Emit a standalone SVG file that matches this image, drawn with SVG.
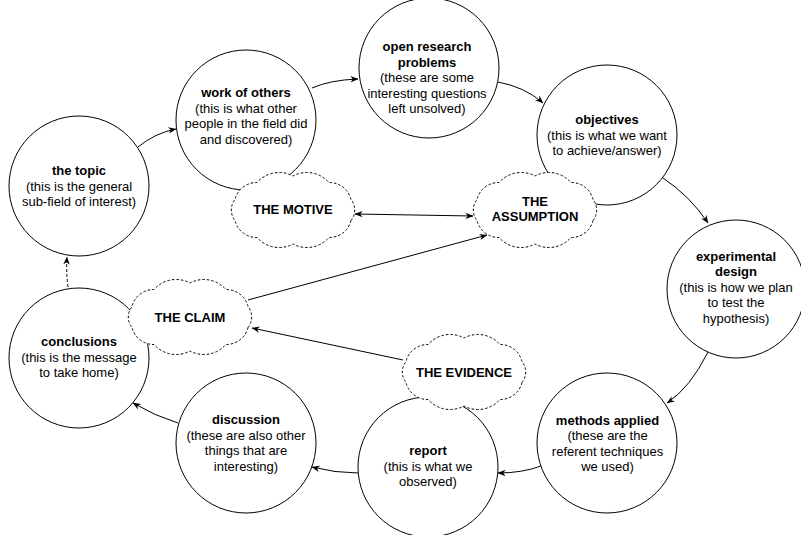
<svg xmlns="http://www.w3.org/2000/svg" xmlns:xlink="http://www.w3.org/1999/xlink" width="801" height="535" viewBox="0 0 801 535">
<style>
text{font-family:"Liberation Sans",Arial,Helvetica,sans-serif;font-size:13px;fill:#000;text-anchor:middle}
.b{font-weight:bold}
.node{fill:#fff;stroke:#000;stroke-width:1}
.cloud{fill:#fff;stroke:#000;stroke-width:1;stroke-dasharray:2.5 2}
.edge{fill:none;stroke:#000;stroke-width:1}
.dash{stroke-dasharray:3 2}
</style>
<defs>
<marker id="arr" viewBox="0 0 10 10" refX="9.5" refY="5" markerWidth="8" markerHeight="8" orient="auto-start-reverse" markerUnits="userSpaceOnUse">
<path d="M0,1 L10,5 L0,9 L3,5 Z" fill="#000"/>
</marker>
<path id="cloudShape" d="M58,10.5 A22.3,22.3 0 0 1 35.9,27.5 A29.2,29.2 0 0 1 0,34 A29.2,29.2 0 0 1 -35.9,27.5 A22.3,22.3 0 0 1 -58,10.5 A16.8,16.8 0 0 1 -58,-10.5 A22.3,22.3 0 0 1 -35.9,-27.5 A29.2,29.2 0 0 1 0,-34 A29.2,29.2 0 0 1 35.9,-27.5 A22.3,22.3 0 0 1 58,-10.5 A16.8,16.8 0 0 1 58,10.5 Z"/>
</defs>
<rect width="801" height="535" fill="#fff"/>

<g id="topic">
<circle class="node" cx="79" cy="186" r="70"/>
<text x="79" y="175" class="b">the topic</text>
<text x="79" y="190.5">(this is the general</text>
<text x="79" y="206">sub-field of interest)</text>
</g>
<g id="work-of-others">
<circle class="node" cx="246" cy="120" r="70"/>
<text x="246" y="97" class="b">work of others</text>
<text x="246" y="112.5">(this is what other</text>
<text x="246" y="128">people in the field did</text>
<text x="246" y="143.5">and discovered)</text>
</g>
<g id="open-research-problems">
<circle class="node" cx="429" cy="68" r="70"/>
<text x="427" y="51" class="b">open research</text>
<text x="427" y="66.5" class="b">problems</text>
<text x="427" y="82">(these are some</text>
<text x="427" y="97.5">interesting questions</text>
<text x="427" y="113">left unsolved)</text>
</g>
<g id="objectives">
<circle class="node" cx="607" cy="135" r="70"/>
<text x="607" y="124" class="b">objectives</text>
<text x="607" y="139.5">(this is what we want</text>
<text x="607" y="155">to achieve/answer)</text>
</g>
<g id="experimental-design">
<circle class="node" cx="736" cy="289" r="69"/>
<text x="736" y="260.5" class="b">experimental</text>
<text x="736" y="276" class="b">design</text>
<text x="736" y="291.5">(this is how we plan</text>
<text x="736" y="307">to test the</text>
<text x="736" y="322.5">hypothesis)</text>
</g>
<g id="methods-applied">
<circle class="node" cx="607" cy="443" r="70"/>
<text x="607.5" y="424.5" class="b">methods applied</text>
<text x="607.5" y="440">(these are the</text>
<text x="607.5" y="455.5">referent techniques</text>
<text x="607.5" y="471">we used)</text>
</g>
<g id="report">
<circle class="node" cx="428" cy="467" r="70"/>
<text x="428" y="455" class="b">report</text>
<text x="428" y="470.5">(this is what we</text>
<text x="428" y="486">observed)</text>
</g>
<g id="discussion">
<circle class="node" cx="246" cy="443" r="70"/>
<text x="246" y="424" class="b">discussion</text>
<text x="246" y="439.5">(these are also other</text>
<text x="246" y="455">things that are</text>
<text x="246" y="470.5">interesting)</text>
</g>
<g id="conclusions">
<circle class="node" cx="79" cy="358" r="70"/>
<text x="79" y="346" class="b">conclusions</text>
<text x="79" y="361.5">(this is the message</text>
<text x="79" y="377">to take home)</text>
</g>

<g id="the-motive">
<use xlink:href="#cloudShape" href="#cloudShape" class="cloud" transform="translate(293,210)"/>
<text x="293" y="214" class="b">THE MOTIVE</text>
</g>
<g id="the-assumption">
<use xlink:href="#cloudShape" href="#cloudShape" class="cloud" transform="translate(535,210)"/>
<text x="535" y="205.5" class="b">THE</text>
<text x="535" y="221" class="b">ASSUMPTION</text>
</g>
<g id="the-claim">
<use xlink:href="#cloudShape" href="#cloudShape" class="cloud" transform="translate(190,317)"/>
<text x="190" y="321.5" class="b">THE CLAIM</text>
</g>
<g id="the-evidence">
<use xlink:href="#cloudShape" href="#cloudShape" class="cloud" transform="translate(464,372)"/>
<text x="464" y="377" class="b">THE EVIDENCE</text>
</g>

<g id="connectors">
<path class="edge" d="M138,147 Q155,133 176,129" marker-end="url(#arr)"/>
<path class="edge" d="M312,88 Q330,80 358,79" marker-end="url(#arr)"/>
<path class="edge" d="M498,82 Q525,87 543,103" marker-end="url(#arr)"/>
<path class="edge" d="M663,178 Q690,196 708,223" marker-end="url(#arr)"/>
<path class="edge" d="M708,352 Q690,388 667,403" marker-end="url(#arr)"/>
<path class="edge" d="M541,466 Q522,473 498,473" marker-end="url(#arr)"/>
<path class="edge" d="M358,473 Q335,473 312,467" marker-end="url(#arr)"/>
<path class="edge" d="M178,423 Q155,416 133,403" marker-end="url(#arr)"/>
<path class="edge dash" d="M68,287 Q66,272 67,257" marker-end="url(#arr)"/>
<path class="edge" d="M355,214 L473,216" marker-start="url(#arr)" marker-end="url(#arr)"/>
<path class="edge" d="M248,300 L487,235" marker-end="url(#arr)"/>
<path class="edge" d="M403,360 L252,328" marker-end="url(#arr)"/>
</g>
</svg>
